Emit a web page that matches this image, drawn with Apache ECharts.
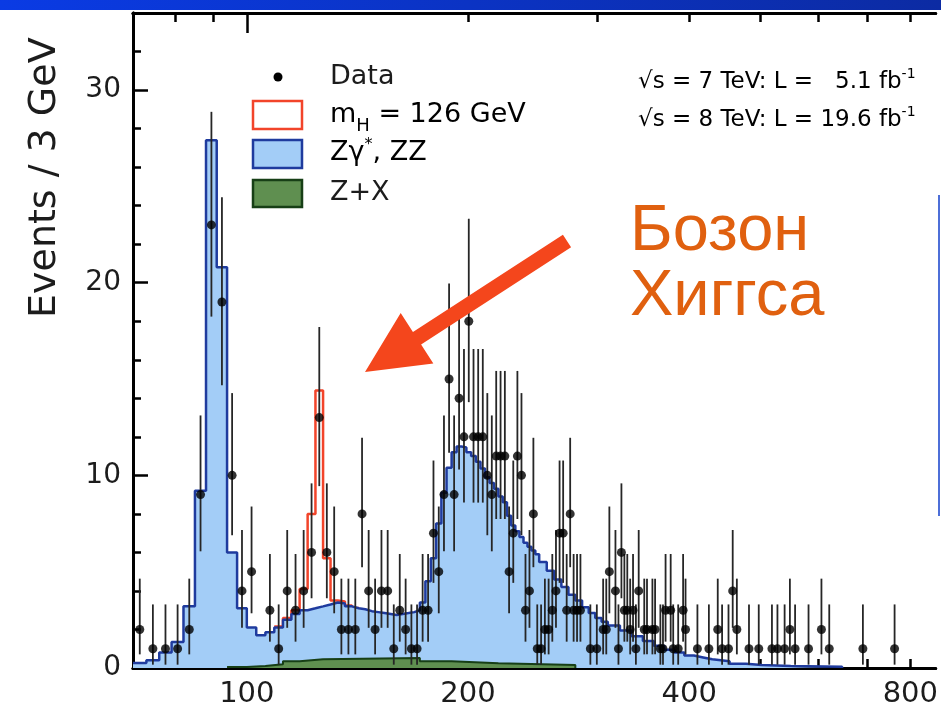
<!DOCTYPE html>
<html>
<head>
<meta charset="utf-8">
<script src="https://cdn.jsdelivr.net/npm/echarts@6/dist/echarts.min.js"></script>
<style>
  html, body { margin: 0; padding: 0; background: #fff; }
  #main { width: 941px; height: 709px; }
</style>
</head>
<body>
<div id="main"></div>
<script>
// four-lepton mass, events / 3 GeV

// Zγ*, ZZ (stacked on Z+X): bin edges (GeV) and heights
const bgEdges = [
  70, 73, 76, 79, 82, 85, 88, 91, 94, 97,
  100, 103, 106, 109, 112, 115, 118, 121, 124, 127,
  130, 133, 136, 139, 142, 145, 148, 151, 154, 157,
  160, 163, 166, 169, 172, 175, 178, 181, 184, 187,
  190, 193, 196, 199, 202, 205, 208, 211, 214, 217,
  220, 223, 226, 229, 232, 235, 238, 241, 244, 247,
  250, 256, 262, 268, 274, 280, 286, 292, 298, 304,
  310, 322, 334, 346, 358, 370, 382, 394, 406, 418,
  430, 454, 478, 502, 550, 646
]
const bgValues = [
  0.26, 0.4, 0.8, 1.35, 3.2, 9.2, 27.4, 20.8, 6.0, 3.1,
  2.1, 1.7, 1.85, 2.1, 2.5, 2.8, 3.0, 3.1, 3.2, 3.3,
  3.4, 3.35, 3.2, 3.1, 3.05, 2.95, 2.9, 2.85, 2.8, 2.75,
  2.8, 2.85, 2.9, 3.0, 3.4, 4.5, 5.7, 7.5, 9.1, 10.4,
  11.2, 11.5, 11.45, 11.2, 11.0, 10.7, 10.35, 9.9, 9.6, 9.3,
  8.9, 8.6, 7.9, 7.4, 7.1, 6.8, 6.5, 6.3, 6.1, 5.9,
  5.5, 5.05, 4.6, 4.2, 3.8, 3.5, 3.15, 2.85, 2.6, 2.4,
  2.2, 1.95, 1.65, 1.4, 1.15, 0.95, 0.8, 0.65, 0.55, 0.45,
  0.35, 0.22, 0.15, 0.1, 0.06
]

// Z+X
const zxEdges = [94, 100, 106, 112, 118, 127, 172, 190, 220, 280]
const zxValues = [0.05, 0.1, 0.2, 0.35, 0.45, 0.52, 0.35, 0.25, 0.15]

// total with m_H = 126 GeV signal on top
const sigEdges = [109, 112, 115, 118, 121, 124, 127, 130, 133, 136, 139, 142]
const sigValues = [2.15, 2.6, 3.0, 4.1, 8.0, 14.4, 5.7, 3.5, 3.45, 3.25, 3.12]

// data: bin centres and counts
const dataMass = [
  71.5, 74.5, 77.5, 80.5, 83.5, 86.5, 89.5, 92.5, 95.5, 98.5,
  101.5, 107.5, 110.5, 113.5, 116.5, 119.5, 122.5, 125.5, 128.5, 131.5,
  134.5, 137.5, 140.5, 143.5, 146.5, 149.5, 152.5, 155.5, 158.5, 161.5,
  164.5, 167.5, 170.5, 173.5, 176.5, 179.5, 182.5, 185.5, 188.5, 191.5,
  194.5, 197.5, 200.5, 203.5, 206.5, 209.5, 212.5, 215.5, 218.5, 221.5,
  224.5, 227.5, 230.5, 233.5, 236.5, 239.5, 242.5, 245.5, 248.5, 251.5,
  254.5, 257.5, 260.5, 263.5, 266.5, 269.5, 272.5, 275.5, 278.5, 281.5,
  284.5, 293.5, 299.5, 305.5, 308.5, 311.5, 317.5, 320.5, 323.5, 326.5,
  329.5, 332.5, 335.5, 338.5, 341.5, 347.5, 350.5, 356.5, 359.5, 365.5,
  368.5, 371.5, 377.5, 380.5, 386.5, 392.5, 395.5, 410.5, 425.5, 437.5,
  443.5, 452.5, 458.5, 464.5, 482.5, 497.5, 518.5, 527.5, 539.5, 548.5,
  557.5, 581.5, 605.5, 620.5, 689.5, 761.5
]
const dataCount = [
  2, 1, 1, 1, 2, 9, 23, 19, 10, 4,
  5, 3, 1, 4, 3, 4, 6, 13, 6, 5,
  2, 2, 2, 8, 4, 2, 4, 4, 1, 3,
  2, 1, 1, 3, 3, 7, 5, 9, 15, 9,
  14, 12, 18, 12, 12, 12, 10, 9, 11, 11,
  11, 5, 7, 11, 10, 3, 4, 8, 1, 1,
  2, 2, 3, 4, 7, 7, 3, 8, 3, 3,
  3, 1, 1, 2, 2, 5, 4, 1, 6, 3,
  3, 2, 3, 1, 4, 2, 2, 2, 2, 1,
  1, 3, 3, 1, 1, 3, 2, 1, 1, 2,
  1, 1, 4, 2, 1, 1, 1, 1, 1, 2,
  1, 1, 2, 1, 1, 1
]

// 68% Poisson intervals by count (index = n)
const poissonLo = [0, 0.173, 0.708, 1.367, 2.086, 2.84, 3.62, 4.419, 5.232, 6.057, 6.891, 7.734,
  8.585, 9.441, 10.3, 11.17, 12.04, 12.92, 13.8, 14.68, 15.57, 16.45, 17.35, 18.24]
const poissonHi = [1.841, 3.3, 4.638, 5.918, 7.163, 8.382, 9.584, 10.77, 11.95, 13.11, 14.27, 15.42,
  16.56, 17.7, 18.83, 19.96, 21.08, 22.2, 23.32, 24.44, 25.55, 26.66, 27.76, 28.87]

const xLabelValues = [100, 200, 400, 800]
const xMajorTicks = [100]
const xMinorTicks = [80, 90, 200, 300, 400, 500, 600, 700, 800]

const FONT = 'DejaVu Sans'
const INK = '#1c1c1c'

const steps = (edges, values) => {
  const pts = values.map((v, i) => [edges[i], v])
  const last = edges[edges.length - 1]
  pts.push([last, values[values.length - 1]])
  pts.push([last, 0])
  return pts
}

// arrow annotation
const tail = [567, 241]
const tip = [365, 372]
const arrowPoints = (() => {
  const dx = tip[0] - tail[0], dy = tip[1] - tail[1]
  const len = Math.hypot(dx, dy)
  const ux = dx / len, uy = dy / len
  const nx = -uy, ny = ux
  const hw = 7.5, headW = 30, headL = 62
  const bx = tip[0] - ux * headL, by = tip[1] - uy * headL
  return [
    [tail[0] + nx * hw, tail[1] + ny * hw],
    [bx + nx * hw, by + ny * hw],
    [bx + nx * headW, by + ny * headW],
    tip,
    [bx - nx * headW, by - ny * headW],
    [bx - nx * hw, by - ny * hw],
    [tail[0] - nx * hw, tail[1] - ny * hw]
  ]
})()

const chart = echarts.init(document.getElementById('main'))

// the frame runs past the right edge of the picture, so the axis stops at ~866 GeV
const xBase = {
  type: 'log',
  logBase: 10,
  min: 70,
  max: 866,
  splitLine: { show: false },
  axisLine: { lineStyle: { color: '#000', width: 3 } }
}
const yBase = {
  type: 'value',
  min: 0,
  max: 34,
  position: 'left',
  splitLine: { show: false },
  axisLine: { show: true, lineStyle: { color: '#000', width: 3 } }
}

const richSup = (size) => ({
  a: { fontFamily: FONT, fontSize: size, color: INK, lineHeight: size + 6, verticalAlign: 'middle' },
  p: { fontFamily: FONT, fontSize: Math.round(size * 0.6), color: INK, lineHeight: Math.round(size * 0.6), verticalAlign: 'top' }
})

const option = {
  animation: false,
  backgroundColor: '#fff',
  grid: { left: 133, top: 13, right: 0, bottom: 40, containLabel: false },
  xAxis: [
    Object.assign({}, xBase, {
      position: 'bottom',
      axisTick: { inside: true, length: 20, customValues: xMajorTicks, lineStyle: { color: '#000', width: 2.5 } },
      axisLabel: { customValues: xLabelValues, fontFamily: FONT, fontSize: 29, color: INK, margin: 12 }
    }),
    Object.assign({}, xBase, {
      position: 'bottom',
      axisTick: { inside: true, length: 9, customValues: xMinorTicks, lineStyle: { color: '#000', width: 2.5 } },
      axisLabel: { show: false }
    }),
    Object.assign({}, xBase, {
      position: 'top',
      axisTick: { inside: true, length: 20, customValues: xMajorTicks, lineStyle: { color: '#000', width: 2.5 } },
      axisLabel: { show: false }
    }),
    Object.assign({}, xBase, {
      position: 'top',
      axisTick: { inside: true, length: 9, customValues: xMinorTicks, lineStyle: { color: '#000', width: 2.5 } },
      axisLabel: { show: false }
    })
  ],
  yAxis: [
    Object.assign({}, yBase, {
      interval: 10,
      axisTick: { inside: true, length: 15, lineStyle: { color: '#000', width: 2.5 } },
      axisLabel: {
        fontFamily: FONT, fontSize: 28, color: INK, margin: 12,
        formatter: v => (v > 30 ? '' : String(v))
      }
    }),
    Object.assign({}, yBase, {
      interval: 2,
      axisTick: { inside: true, length: 8, lineStyle: { color: '#000', width: 2.5 } },
      axisLabel: { show: false }
    })
  ],
  series: [
    {
      name: 'mH = 126 GeV',
      type: 'line',
      step: 'end',
      symbol: 'none',
      data: steps(sigEdges, sigValues),
      lineStyle: { color: '#f2442a', width: 2.5 },
      z: 2
    },
    {
      name: 'Zγ*, ZZ',
      type: 'line',
      step: 'end',
      symbol: 'none',
      data: steps(bgEdges, bgValues),
      lineStyle: { color: '#1f3b9e', width: 2.5 },
      areaStyle: { color: '#a3cdf7', opacity: 1 },
      z: 3
    },
    {
      name: 'Z+X',
      type: 'line',
      step: 'end',
      symbol: 'none',
      data: steps(zxEdges, zxValues),
      lineStyle: { color: '#173f16', width: 2 },
      areaStyle: { color: '#5f8f50', opacity: 1 },
      z: 4
    },
    {
      name: 'errors',
      type: 'custom',
      data: dataMass.map((m, i) => [m, poissonLo[dataCount[i]], poissonHi[dataCount[i]]]),
      renderItem: (params, api) => {
        const a = api.coord([api.value(0), api.value(1)])
        const b = api.coord([api.value(0), api.value(2)])
        return {
          type: 'line',
          shape: { x1: a[0], y1: a[1], x2: b[0], y2: b[1] },
          style: { stroke: '#262626', lineWidth: 1.8 }
        }
      },
      z: 5
    },
    {
      name: 'Data',
      type: 'scatter',
      symbol: 'circle',
      symbolSize: 9,
      data: dataMass.map((m, i) => [m, dataCount[i]]),
      itemStyle: { color: '#000' },
      z: 6
    }
  ],
  graphic: [
    {
      type: 'rect',
      shape: { x: 0, y: 0, width: 941, height: 10 },
      style: {
        fill: new echarts.graphic.LinearGradient(0, 0, 1, 0, [
          { offset: 0, color: '#0a3be4' },
          { offset: 1, color: '#0c2ba3' }
        ])
      },
      z: 100
    },
    {
      type: 'line',
      shape: { x1: 939, y1: 195, x2: 939, y2: 516 },
      style: { stroke: '#4d6fd8', lineWidth: 2 },
      z: 100
    },
    {
      type: 'text',
      x: 45, y: 318, rotation: Math.PI / 2,
      style: {
        text: 'Events / 3 GeV', font: '38px "DejaVu Sans"', fill: INK,
        textAlign: 'left', textVerticalAlign: 'middle'
      },
      z: 100
    },
    // legend
    { type: 'circle', shape: { cx: 278, cy: 77, r: 4.5 }, style: { fill: '#000' }, z: 100 },
    {
      type: 'text', x: 330, y: 77,
      style: { text: 'Data', font: '27px "DejaVu Sans"', fill: INK, textVerticalAlign: 'middle' },
      z: 100
    },
    {
      type: 'rect', shape: { x: 253, y: 101, width: 49, height: 28 },
      style: { fill: '#fff', stroke: '#f2442a', lineWidth: 2.5 }, z: 100
    },
    {
      type: 'text', x: 330, y: 115,
      style: {
        text: '{a|m}{s|H}{a| = 126 GeV}',
        textVerticalAlign: 'middle',
        rich: {
          a: { fontFamily: FONT, fontSize: 27, color: INK, lineHeight: 40, verticalAlign: 'middle' },
          s: { fontFamily: FONT, fontSize: 18, color: INK, lineHeight: 18, verticalAlign: 'bottom' }
        }
      },
      z: 100
    },
    {
      type: 'rect', shape: { x: 253, y: 140, width: 49, height: 28 },
      style: { fill: '#a3cdf7', stroke: '#1f3b9e', lineWidth: 2.5 }, z: 100
    },
    {
      type: 'text', x: 330, y: 153,
      style: { text: '{a|Zγ}{p|*}{a|, ZZ}', textVerticalAlign: 'middle', rich: richSup(27) },
      z: 100
    },
    {
      type: 'rect', shape: { x: 253, y: 180, width: 49, height: 27 },
      style: { fill: '#5f8f50', stroke: '#173f16', lineWidth: 2.5 }, z: 100
    },
    {
      type: 'text', x: 330, y: 193,
      style: { text: 'Z+X', font: '27px "DejaVu Sans"', fill: INK, textVerticalAlign: 'middle' },
      z: 100
    },
    // luminosity
    {
      type: 'text', x: 638, y: 82,
      style: { text: '{a|√s = 7 TeV: L =   5.1 fb}{p|-1}', textVerticalAlign: 'middle', rich: richSup(23) },
      z: 100
    },
    {
      type: 'text', x: 638, y: 120,
      style: { text: '{a|√s = 8 TeV: L = 19.6 fb}{p|-1}', textVerticalAlign: 'middle', rich: richSup(23) },
      z: 100
    },
    // annotation
    {
      type: 'text', x: 630, y: 232,
      style: { text: 'Бозон', font: '65px "Liberation Sans"', fill: '#e0600f', textVerticalAlign: 'middle' },
      z: 100
    },
    {
      type: 'text', x: 630, y: 297,
      style: { text: 'Хиггса', font: '65px "Liberation Sans"', fill: '#e0600f', textVerticalAlign: 'middle' },
      z: 100
    },
    {
      type: 'polygon',
      shape: { points: arrowPoints },
      style: { fill: '#f4461c' },
      z: 100
    }
  ]
}

chart.setOption(option)
</script>
</body>
</html>
